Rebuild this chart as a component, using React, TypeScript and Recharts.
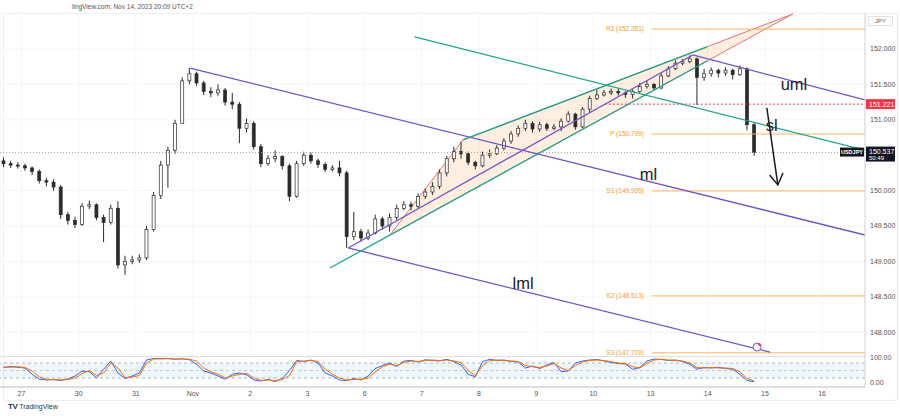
import React from "react";
import {
  ComposedChart,
  Bar,
  Line,
  XAxis,
  YAxis,
  CartesianGrid,
  ReferenceLine,
  ReferenceArea,
  ReferenceDot,
} from "recharts";

// 3h candles, USDJPY, Oct 26 15:00 -> Nov 14 18:00
const opens = [
  150.42, 150.38, 150.36, 150.35, 150.32, 150.27, 150.14, 150.12, 150.05, 149.66,
  149.58, 149.52, 149.78, 149.8, 149.62, 149.55, 149.75, 148.95, 149.0, 149.02,
  149.05, 149.45, 149.93, 150.36, 150.57, 150.95, 151.55, 151.65, 151.52, 151.4,
  151.38, 151.42, 151.25, 151.22, 150.88, 150.95, 150.62, 150.38, 150.45, 150.48,
  150.35, 149.92, 150.38, 150.5, 150.42, 150.37, 150.3, 150.32, 150.25, 149.35,
  149.42, 149.33, 149.4, 149.6, 149.5, 149.62, 149.75, 149.8, 149.78, 149.92,
  149.98, 150.06, 150.25, 150.45, 150.55, 150.52, 150.4, 150.35, 150.5, 150.52,
  150.6, 150.7, 150.8, 150.88, 150.95, 150.87, 150.93, 150.88, 150.9, 150.98,
  151.08, 150.9, 151.15, 151.3, 151.35, 151.38, 151.4, 151.38, 151.36, 151.4,
  151.47, 151.5, 151.45, 151.62, 151.72, 151.8, 151.82, 151.86, 151.6, 151.65,
  151.7, 151.66, 151.7, 151.64, 151.72, 150.93,
];
const highs = [
  150.47, 150.42, 150.4, 150.38, 150.34, 150.3, 150.18, 150.16, 150.08, 149.7,
  149.63, 149.82, 149.86, 149.82, 149.66, 149.8, 149.85, 149.08, 149.08, 149.1,
  149.5, 149.98, 150.42, 150.62, 151.0, 151.6, 151.73, 151.68, 151.55, 151.46,
  151.5, 151.45, 151.38, 151.25, 151.02, 150.98, 150.66, 150.5, 150.57, 150.5,
  150.38, 150.42, 150.55, 150.54, 150.45, 150.4, 150.36, 150.42, 150.28, 149.7,
  149.46, 149.45, 149.66, 149.63, 149.68, 149.8, 149.85, 149.84, 149.96, 150.03,
  150.12, 150.3, 150.49, 150.62, 150.69, 150.55, 150.42, 150.55, 150.58, 150.64,
  150.74, 150.84, 150.92, 151.0, 150.98, 150.97, 150.96, 150.94, 151.02, 151.12,
  151.1, 151.18, 151.34, 151.42, 151.42, 151.44, 151.44, 151.4, 151.43, 151.52,
  151.56, 151.52, 151.66, 151.76, 151.84, 151.86, 151.91, 151.88, 151.72, 151.74,
  151.72, 151.74, 151.72, 151.77, 151.74, 150.97,
];
const lows = [
  150.33, 150.32, 150.31, 150.28, 150.22, 150.1, 150.06, 150.0, 149.6, 149.52,
  149.47, 149.5, 149.74, 149.58, 149.27, 149.52, 148.9, 148.81, 148.96, 148.98,
  149.02, 149.42, 149.88, 150.04, 150.52, 150.98, 151.5, 151.48, 151.35, 151.32,
  151.34, 151.2, 151.15, 150.67, 150.82, 150.58, 150.33, 150.35, 150.4, 150.3,
  149.85, 149.9, 150.35, 150.38, 150.32, 150.26, 150.27, 150.2, 149.19, 149.3,
  149.28, 149.3, 149.38, 149.45, 149.42, 149.58, 149.72, 149.72, 149.75, 149.88,
  149.94, 150.02, 150.2, 150.4, 150.45, 150.36, 150.3, 150.33, 150.46, 150.5,
  150.57, 150.66, 150.76, 150.84, 150.82, 150.83, 150.84, 150.85, 150.84, 150.96,
  150.86, 150.88, 151.1, 151.28, 151.33, 151.35, 151.34, 151.31, 151.3, 151.38,
  151.44, 151.42, 151.43, 151.6, 151.7, 151.77, 151.8, 151.21, 151.55, 151.61,
  151.6, 151.62, 151.57, 151.62, 150.85, 150.49,
];
const closes = [
  150.38, 150.36, 150.35, 150.32, 150.27, 150.14, 150.12, 150.05, 149.66, 149.58,
  149.52, 149.78, 149.8, 149.62, 149.55, 149.75, 148.95, 149.0, 149.02, 149.05,
  149.45, 149.93, 150.36, 150.57, 150.95, 151.55, 151.65, 151.52, 151.4, 151.38,
  151.42, 151.25, 151.22, 150.88, 150.95, 150.62, 150.38, 150.45, 150.48, 150.35,
  149.92, 150.38, 150.5, 150.42, 150.37, 150.3, 150.32, 150.25, 149.35, 149.42,
  149.33, 149.4, 149.6, 149.5, 149.62, 149.75, 149.8, 149.78, 149.92, 149.98,
  150.06, 150.25, 150.45, 150.55, 150.52, 150.4, 150.35, 150.5, 150.52, 150.6,
  150.7, 150.8, 150.88, 150.95, 150.87, 150.93, 150.88, 150.9, 150.98, 151.08,
  150.9, 151.15, 151.3, 151.35, 151.38, 151.4, 151.38, 151.36, 151.4, 151.47,
  151.5, 151.45, 151.62, 151.72, 151.8, 151.82, 151.86, 151.6, 151.65, 151.7,
  151.66, 151.7, 151.64, 151.72, 150.93, 150.537,
];

// stochastic %K / %D
const stochK = [
  62, 66, 63, 60, 35, 15, 12, 14, 10, 16, 28, 48, 45, 20, 55, 88, 40, 18, 28, 40,
  92, 98, 97, 98, 95, 97, 93, 75, 48, 40, 28, 15, 35, 40, 33, 12, 8, 14, 6, 18,
  50, 90, 86, 92, 80, 40, 28, 12, 10, 18, 12, 28, 58, 70, 80, 66, 88, 90, 84, 93,
  90, 88, 95, 85, 72, 35, 25, 85, 95, 90, 92, 86, 84, 60, 68, 58, 72, 82, 45, 48,
  80, 88, 92, 94, 88, 82, 78, 76, 55, 62, 88, 96, 94, 90, 92, 86, 75, 55, 62, 60,
  63, 58, 55, 35, 10, 5,
];
const stochD = [
  64, 63, 65, 62, 48, 24, 15, 13, 12, 14, 20, 38, 50, 30, 40, 80, 60, 22, 24, 30,
  80, 96, 97, 97, 96, 96, 95, 88, 60, 45, 35, 20, 28, 35, 38, 20, 10, 12, 10, 14,
  30, 85, 88, 90, 86, 55, 35, 20, 12, 14, 15, 20, 45, 65, 75, 70, 82, 88, 86, 90,
  92, 90, 92, 88, 82, 50, 30, 70, 90, 92, 90, 88, 86, 70, 65, 62, 68, 78, 60, 50,
  70, 85, 90, 92, 90, 85, 80, 78, 65, 60, 78, 92, 95, 92, 90, 88, 80, 62, 60, 62,
  60, 60, 58, 45, 18, 8,
];

const dayTicks = [3, 11, 19, 27, 35, 43, 51, 59, 67, 75, 83, 91, 99, 107, 115];
const dayLabels = ["27", "30", "31", "Nov", "2", "3", "6", "7", "8", "9", "10", "13", "14", "15", "16"];
const priceTicks = [148, 148.5, 149, 149.5, 150, 151, 151.5, 152];

const pivotNames = ["R1", "P", "S1", "S2", "S3"];
const pivotValues = [152.281, 150.799, 149.995, 148.513, 147.709];

const lastPrice = 150.537;
const lowLevel = 151.221;

// drawings: [slot, price]
const mlLine = [[26.6, 151.73], [121, 149.373]];
const umlLine = [[96.9, 151.915], [121, 151.28]];
const lmlLine = [[48.7, 149.19], [107.7, 147.72]];
const forkLine = [[48.7, 149.19], [96.9, 151.915]];
const slLine = [[58.0, 152.17], [121, 150.57]];
const wedgeUpper = [[64.76, 150.715], [98.9, 152.03]];
const wedgeLower = [[46.15, 148.907], [98.9, 151.83]];
const wedgePoly = [[54.55, 149.373], [64.76, 150.715], [110.9, 152.494]];
const arrowLine = [[107.27, 151.167], [108.81, 150.08]];
const textMarks = [
  { text: "uml", at: [109.2, 151.42] },
  { text: "sl", at: [107.1, 150.84] },
  { text: "ml", at: [89.5, 150.15] },
  { text: "lml", at: [71.7, 148.61] },
];

const rows = closes.map((c, i) => ({
  x: i + 0.5,
  open: opens[i],
  high: highs[i],
  low: lows[i],
  close: c,
  range: [lows[i], highs[i]],
  k: stochK[i],
  d: stochD[i],
}));

const FONT = "'Liberation Sans', Arial, sans-serif";
const PURPLE = "#7352c9";
const GREEN = "#22a38f";
const PIVOT = "#f9b366";
const INK = "#2b2b2b";

const Candle = (props: any) => {
  const { x, y, width, height, payload } = props;
  if (!payload) return null;
  const top = Math.min(y, y + height);
  const h = Math.abs(height);
  const span = payload.high - payload.low || 0.0001;
  const k = h / span;
  const yo = top + (payload.high - payload.open) * k;
  const yc = top + (payload.high - payload.close) * k;
  const up = payload.close >= payload.open;
  const cx = x + width / 2;
  return (
    <g>
      <line x1={cx} x2={cx} y1={top} y2={top + h} stroke={INK} strokeWidth={1} />
      <rect
        x={x}
        y={Math.min(yo, yc)}
        width={width}
        height={Math.max(1, Math.abs(yo - yc))}
        fill={up ? "#ffffff" : INK}
        stroke={INK}
        strokeWidth={0.7}
      />
    </g>
  );
};

const seg = (pts: number[][]) => [
  { x: pts[0][0], y: pts[0][1] },
  { x: pts[1][0], y: pts[1][1] },
];

const Arrow = (p: any) => {
  const { x1, y1, x2, y2 } = p;
  const ang = Math.atan2(y2 - y1, x2 - x1);
  const len = 13;
  const a1 = ang + Math.PI - 0.55;
  const a2 = ang + Math.PI + 0.55;
  return (
    <g stroke="#1b1b1b" strokeWidth={1.5} fill="none">
      <line x1={x1} y1={y1} x2={x2} y2={y2} />
      <polyline
        points={`${x2 + len * Math.cos(a1)},${y2 + len * Math.sin(a1)} ${x2},${y2} ${x2 + len * Math.cos(a2)},${y2 + len * Math.sin(a2)}`}
      />
    </g>
  );
};

const WedgeShape = (p: any) => {
  const { x, y, width, height } = p;
  const xs = wedgePoly.map((v) => v[0]);
  const ys = wedgePoly.map((v) => v[1]);
  const x0 = Math.min(...xs), x1 = Math.max(...xs);
  const y0 = Math.min(...ys), y1 = Math.max(...ys);
  const pts = wedgePoly
    .map((v) => `${x + ((v[0] - x0) / (x1 - x0)) * width},${y + ((y1 - v[1]) / (y1 - y0)) * height}`)
    .join(" ");
  return <polygon points={pts} fill="#f57c00" fillOpacity={0.12} stroke="#e57373" strokeWidth={1} />;
};

export default function App() {
  const xs = wedgePoly.map((v) => v[0]);
  const ys = wedgePoly.map((v) => v[1]);
  return (
    <div style={{ position: "relative", width: 900, height: 416, background: "#fff", fontFamily: FONT, overflow: "hidden" }}>
      <style>{"body{margin:0}"}</style>
      <div style={{ position: "absolute", left: 72, top: 3, fontSize: 6.5, color: "#555" }}>
        lingView.com, Nov 14, 2023 20:09 UTC+2
      </div>
      <div style={{ position: "absolute", left: 3, top: 13, width: 893, height: 386, border: "1px solid #eceef1", borderRadius: 3 }} />

      <div style={{ position: "absolute", left: 0, top: 0 }}>
        <ComposedChart width={900} height={358} data={rows} margin={{ top: 13, right: 0, left: 0, bottom: 0 }}>
          <CartesianGrid stroke="#f6f6f6" />
          <XAxis type="number" dataKey="x" domain={[0, 121]} ticks={dayTicks} hide allowDataOverflow />
          <YAxis
            orientation="right"
            width={35}
            domain={[147.636, 152.508]}
            allowDataOverflow
            ticks={priceTicks}
            interval={0}
            tickFormatter={(v: number) => v.toFixed(3)}
            tick={{ fontSize: 7, fill: "#555", fontFamily: FONT, textAnchor: "start" }}
            tickSize={0}
            tickMargin={5}
            axisLine={{ stroke: "#d4d4d4" }}
            tickLine={false}
          />

          <ReferenceLine y={lastPrice} stroke="#a8a8a8" strokeDasharray="1 2" />
          <ReferenceLine segment={[{ x: 84.6, y: lowLevel }, { x: 121, y: lowLevel }]} stroke="#f23645" strokeDasharray="2 2" ifOverflow="hidden" />

          {pivotValues.map((v, i) => (
            <ReferenceLine
              key={pivotNames[i]}
              segment={[{ x: 91.2, y: v }, { x: 121, y: v }]}
              ifOverflow="hidden"
              shape={(p: any) => (
                <g>
                  <line x1={p.x1} y1={p.y1} x2={p.x2} y2={p.y2} stroke={PIVOT} strokeWidth={1} />
                  <text x={p.x1 - 8} y={p.y1 + 2.3} textAnchor="end" fontSize={6.5} fill="#f29b37" fontFamily={FONT}>
                    {`${pivotNames[i]} (${v.toFixed(3)})`}
                  </text>
                </g>
              )}
            />
          ))}

          <ReferenceArea x1={Math.min(...xs)} x2={Math.max(...xs)} y1={Math.min(...ys)} y2={Math.max(...ys)} ifOverflow="hidden" shape={WedgeShape} />

          <ReferenceLine segment={seg(mlLine)} stroke={PURPLE} strokeWidth={1.3} ifOverflow="hidden" />
          <ReferenceLine segment={seg(umlLine)} stroke={PURPLE} strokeWidth={1.3} ifOverflow="hidden" />
          <ReferenceLine segment={seg(lmlLine)} stroke={PURPLE} strokeWidth={1.3} ifOverflow="hidden" />
          <ReferenceLine segment={seg(forkLine)} stroke={PURPLE} strokeWidth={1.3} ifOverflow="hidden" />
          <ReferenceLine segment={seg(slLine)} stroke={GREEN} strokeWidth={1.3} ifOverflow="hidden" />
          <ReferenceLine segment={seg(wedgeUpper)} stroke={GREEN} strokeWidth={1.3} ifOverflow="hidden" />
          <ReferenceLine segment={seg(wedgeLower)} stroke={GREEN} strokeWidth={1.3} ifOverflow="hidden" />

          <Bar dataKey="range" barSize={3} shape={Candle} isAnimationActive={false} />

          <ReferenceLine segment={seg(arrowLine)} ifOverflow="hidden" shape={Arrow} />

          {textMarks.map((t) => (
            <ReferenceDot
              key={t.text}
              x={t.at[0]}
              y={t.at[1]}
              r={0}
              ifOverflow="visible"
              shape={(p: any) => (
                <text x={p.cx} y={p.cy} fontSize={16.5} fill="#1c1c1c" fontFamily={FONT}>
                  {t.text}
                </text>
              )}
            />
          ))}

          <ReferenceDot
            x={105.9}
            y={147.79}
            r={4}
            ifOverflow="visible"
            shape={(p: any) => (
              <g>
                <circle cx={p.cx} cy={p.cy} r={4} fill="#fff" stroke={PURPLE} strokeWidth={1} />
                <circle cx={p.cx + 2.5} cy={p.cy - 2.5} r={1.3} fill="#f23645" />
              </g>
            )}
          />

          <ReferenceDot
            x={121}
            y={lowLevel}
            r={0}
            ifOverflow="visible"
            shape={(p: any) => (
              <g>
                <rect x={p.cx + 1} y={p.cy - 5} width={29} height={10} fill="#f23645" />
                <text x={p.cx + 4} y={p.cy + 2.4} fontSize={7} fill="#fff" fontFamily={FONT}>
                  {lowLevel.toFixed(3)}
                </text>
              </g>
            )}
          />
          <ReferenceDot
            x={121}
            y={lastPrice}
            r={0}
            ifOverflow="visible"
            shape={(p: any) => (
              <g>
                <rect x={p.cx - 25} y={p.cy - 5} width={24} height={9} fill="#131722" />
                <text x={p.cx - 13} y={p.cy + 1.8} fontSize={5.5} fill="#fff" textAnchor="middle" fontWeight="bold" fontFamily={FONT}>
                  USDJPY
                </text>
                <rect x={p.cx + 1} y={p.cy - 6} width={29} height={15} fill="#131722" />
                <text x={p.cx + 4} y={p.cy + 1} fontSize={7} fill="#fff" fontFamily={FONT}>
                  {lastPrice.toFixed(3)}
                </text>
                <text x={p.cx + 4} y={p.cy + 7.5} fontSize={6} fill="#fff" fontFamily={FONT}>
                  50:49
                </text>
              </g>
            )}
          />
        </ComposedChart>
      </div>

      <div style={{ position: "absolute", left: 868, top: 16, width: 23, height: 8, border: "1px solid #e3e3e3", fontSize: 6, color: "#555", textAlign: "center", lineHeight: "8px" }}>
        JPY
      </div>

      <div style={{ position: "absolute", left: 0, top: 356, width: 865, height: 1, background: "#e0e0e0" }} />
      <div style={{ position: "absolute", left: 0, top: 350 }}>
        <ComposedChart width={900} height={49} data={rows} margin={{ top: 7, right: 0, left: 0, bottom: 0 }}>
          <XAxis
            type="number"
            dataKey="x"
            domain={[0, 121]}
            allowDataOverflow
            ticks={dayTicks}
            interval={0}
            tickFormatter={(v: number) => dayLabels[dayTicks.indexOf(v)]}
            height={12}
            tickSize={0}
            tickMargin={4}
            tickLine={false}
            axisLine={{ stroke: "#bdbdbd" }}
            tick={{ fontSize: 7, fill: "#555", fontFamily: FONT }}
          />
          <YAxis
            orientation="right"
            width={35}
            domain={[-16, 104]}
            allowDataOverflow
            ticks={[0, 100]}
            interval={0}
            tickFormatter={(v: number) => v.toFixed(2)}
            tick={{ fontSize: 7, fill: "#555", fontFamily: FONT, textAnchor: "start" }}
            tickSize={0}
            tickMargin={5}
            axisLine={{ stroke: "#d4d4d4" }}
            tickLine={false}
          />
          <ReferenceArea y1={20} y2={80} fill="#2196f3" fillOpacity={0.08} stroke="none" />
          <ReferenceLine y={80} stroke="#b5b5b5" strokeDasharray="3 3" />
          <ReferenceLine y={50} stroke="#c8c8c8" strokeDasharray="3 3" />
          <ReferenceLine y={20} stroke="#b5b5b5" strokeDasharray="3 3" />
          <Line type="linear" dataKey="k" stroke="#2962ff" strokeWidth={1} dot={false} isAnimationActive={false} />
          <Line type="linear" dataKey="d" stroke="#ff6d00" strokeWidth={1} dot={false} isAnimationActive={false} />
        </ComposedChart>
      </div>

      <div style={{ position: "absolute", left: 8, top: 402, fontSize: 7, color: "#333", display: "flex", alignItems: "center", gap: 2 }}>
        <span style={{ fontWeight: 900, fontSize: 8, letterSpacing: -0.5 }}>TV</span>
        <span>TradingView</span>
      </div>
    </div>
  );
}
